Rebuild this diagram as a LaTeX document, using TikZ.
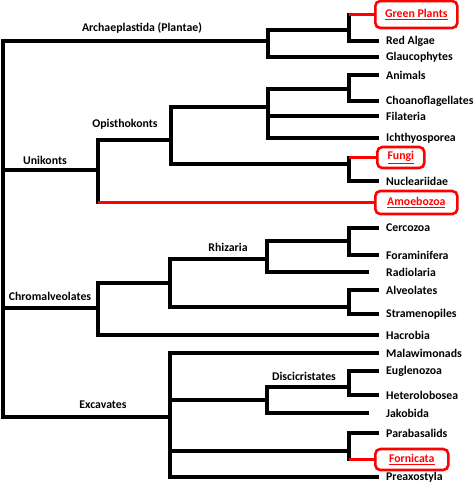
\documentclass[tikz,border=0pt]{standalone}
\usepackage{fontspec}
\setmainfont{Carlito}
\begin{document}
\begin{tikzpicture}[x=1pt,y=-1pt,
  br/.style={line width=3.2pt,line cap=rect,black},
  rbr/.style={line width=3.2pt,red},
  lbl/.style={font=\bfseries\fontsize{11.8}{13}\selectfont,inner sep=0pt},
  leaf/.style={lbl,anchor=west,inner xsep=9pt},
  redbox/.style={draw=red,line width=2.6pt,rounded corners=5pt,text=red,
     font=\bfseries\fontsize{11.8}{13}\selectfont,inner sep=0pt,anchor=west}]
\useasboundingbox (0,0) rectangle (474,489);
% internal coordinates
\coordinate (root) at (3,229);
\coordinate (A) at (268,41);
\coordinate (A1) at (349,30);
\coordinate (U) at (98,170);
\coordinate (O) at (171,140);
\coordinate (O1) at (268,107);
\coordinate (O2) at (349,89);
\coordinate (O3) at (349,164);
\coordinate (C) at (98,308);
\coordinate (C1) at (170,283);
\coordinate (R) at (267,259);
\coordinate (R1) at (349,241);
\coordinate (C2) at (349,307);
\coordinate (E) at (170,417);
\coordinate (D) at (267,400);
\coordinate (D1) at (349,387);
\coordinate (P) at (349,451);
% leaves
\node[redbox,minimum width=82pt,minimum height=27pt] (gp) at (374,14.5) {\underline{Green Plants}};
\node[leaf] (ra) at (377,41) {Red Algae};
\node[leaf] (gl) at (377,57) {Glaucophytes};
\node[leaf] (an) at (377,75) {Animals};
\node[leaf] (ch) at (377,101) {Choanoflagellates};
\node[leaf] (fi) at (377,116) {Filateria};
\node[leaf] (ic) at (377,138) {Ichthyosporea};
\node[redbox,minimum width=47pt,minimum height=21pt] (fu) at (376,157.5) {\underline{Fungi}};
\node[leaf] (nu) at (377,181) {Nucleariidae};
\node[redbox,minimum width=82pt,minimum height=23pt] (am) at (374,202.5) {\underline{Amoebozoa}};
\node[leaf] (ce) at (377,228) {Cercozoa};
\node[leaf] (fo) at (377,255) {Foraminifera};
\node[leaf] (rd) at (377,272) {Radiolaria};
\node[leaf] (al) at (377,290) {Alveolates};
\node[leaf] (st) at (377,314) {Stramenopiles};
\node[leaf] (ha) at (377,335) {Hacrobia};
\node[leaf] (ma) at (377,353) {Malawimonads};
\node[leaf] (eu) at (377,371) {Euglenozoa};
\node[leaf] (he) at (377,395) {Heterolobosea};
\node[leaf] (ja) at (377,413) {Jakobida};
\node[leaf] (pa) at (377,433) {Parabasalids};
\node[redbox,minimum width=73pt,minimum height=21pt] (fn) at (374,459.5) {\underline{Fornicata}};
\node[leaf] (pr) at (377,477) {Preaxostyla};
% clade labels
\node[lbl] (lA) at (142,28) {Archaeplastida (Plantae)};
\node[lbl] (lU) at (45,160) {Unikonts};
\node[lbl] (lO) at (125,124) {Opisthokonts};
\node[lbl] (lC) at (50,296) {Chromalveolates};
\node[lbl] (lR) at (228,247) {Rhizaria};
\node[lbl] (lE) at (103,405) {Excavates};
\node[lbl] (lD) at (304,376) {Discicristates};
% tree
\draw[br] (root) |- (A);
\draw[br] (root) |- (U);
\draw[br] (root) |- (C);
\draw[br] (root) |- (E);
\draw[br] (A) |- (A1);
\draw[br] (A) |- (gl.west);
\draw[br] (A1) -- (A1 |- gp.west);
\draw[rbr] (A1 |- gp.west) -- (gp.west);
\draw[br] (A1) |- (ra.west);
\draw[br] (U) |- (O);
\draw[br] (U) -- (U |- am.west);
\draw[rbr] (U |- am.west) -- (am.west);
\draw[br] (O) |- (O1);
\draw[br] (O) |- (O3);
\draw[br] (O1) |- (O2);
\draw[br] (O1) |- (fi.west);
\draw[br] (O1) |- (ic.west);
\draw[br] (O2) |- (an.west);
\draw[br] (O2) |- (ch.west);
\draw[br] (O3) -- (O3 |- fu.west);
\draw[rbr] (O3 |- fu.west) -- (fu.west);
\draw[br] (O3) |- (nu.west);
\draw[br] (C) |- (C1);
\draw[br] (C) |- (ha.west);
\draw[br] (C1) |- (R);
\draw[br] (C1) |- (C2);
\draw[br] (R) |- (R1);
\draw[br] (R) |- ([xshift=-10pt]rd.west);
\draw[br] (R1) |- (ce.west);
\draw[br] (R1) |- (fo.west);
\draw[br] (C2) |- (al.west);
\draw[br] (C2) |- (st.west);
\draw[br] (E) |- (ma.west);
\draw[br] (E) |- (D);
\draw[br] (E) |- (P);
\draw[br] (E) |- (pr.west);
\draw[br] (D) |- (D1);
\draw[br] (D) |- ([xshift=-10pt]ja.west);
\draw[br] (D1) |- (eu.west);
\draw[br] (D1) |- (he.west);
\draw[br] (P) |- (pa.west);
\draw[br] (P) -- (P |- fn.west);
\draw[rbr] (P |- fn.west) -- (fn.west);
\end{tikzpicture}
\end{document}
